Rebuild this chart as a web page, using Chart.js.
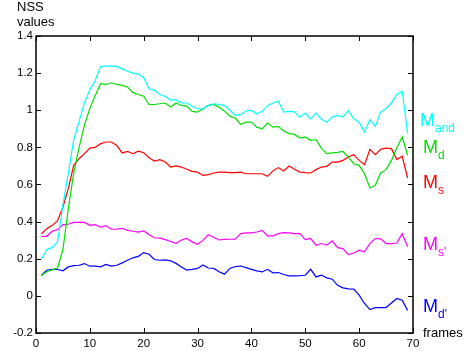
<!DOCTYPE html>
<html>
<head>
<meta charset="utf-8">
<script src="https://cdn.jsdelivr.net/npm/chart.js@4.4.1/dist/chart.umd.min.js"></script>
<style>
  html, body { margin: 0; padding: 0; background: #fff; }
  #wrap { width: 470px; height: 351px; }
</style>
</head>
<body>
<div id="wrap"><canvas id="nssChart" width="470" height="351"></canvas></div>
<script>
// frame numbers (x values)
const frames = [1,2,3,4,5,6,7,8,9,10,11,12,13,14,15,16,17,18,19,20,21,22,23,24,25,26,27,28,29,30,
  31,32,33,34,35,36,37,38,39,40,41,42,43,44,45,46,47,48,49,50,51,52,53,54,55,56,57,58,59,60,
  61,62,63,64,65,66,67,68,69];

// NSS values
const mAnd = [0.20,0.25,0.26,0.29,0.49,0.66,0.84,0.94,1.04,1.11,1.16,1.235,1.238,1.238,1.236,1.223,1.21,1.20,
  1.196,1.175,1.116,1.107,1.085,1.074,1.056,1.056,1.04,1.039,1.022,1.008,1.008,1.026,1.035,1.031,1.026,1.0,
  0.972,0.976,0.996,0.999,0.981,0.994,1.026,1.039,1.049,0.99,0.994,0.992,0.963,0.985,0.954,0.985,0.951,
  0.936,0.963,0.972,0.963,0.999,0.954,0.936,0.882,0.949,0.913,0.99,1.008,1.04,1.085,1.101,0.876];
const mD = [0.11,0.13,0.14,0.15,0.25,0.47,0.66,0.80,0.92,1.01,1.08,1.143,1.139,1.148,1.139,1.134,1.125,1.095,
  1.085,1.076,1.031,1.031,1.035,1.039,1.017,1.039,1.026,1.022,0.994,0.99,1.008,1.026,1.031,1.017,0.995,0.968,
  0.958,0.924,0.936,0.936,0.909,0.90,0.931,0.909,0.913,0.888,0.874,0.87,0.85,0.856,0.838,0.841,0.795,
  0.766,0.77,0.773,0.778,0.748,0.712,0.703,0.658,0.581,0.596,0.662,0.68,0.73,0.798,0.856,0.757];
const mS = [0.335,0.362,0.38,0.404,0.479,0.578,0.703,0.739,0.766,0.796,0.80,0.82,0.829,0.829,0.81,0.77,0.778,0.766,
  0.78,0.771,0.744,0.726,0.734,0.721,0.694,0.70,0.694,0.682,0.671,0.667,0.649,0.653,0.662,0.667,0.667,0.664,
  0.664,0.667,0.658,0.658,0.658,0.658,0.644,0.673,0.691,0.673,0.70,0.682,0.667,0.664,0.662,0.68,0.694,
  0.698,0.721,0.721,0.73,0.748,0.761,0.73,0.707,0.789,0.761,0.789,0.796,0.793,0.734,0.752,0.635];
const mS2 = [0.321,0.321,0.348,0.357,0.384,0.386,0.396,0.396,0.396,0.38,0.384,0.371,0.378,0.359,0.36,0.364,0.353,0.348,
  0.343,0.35,0.329,0.313,0.311,0.303,0.293,0.283,0.301,0.309,0.291,0.278,0.299,0.329,0.316,0.301,0.304,0.305,
  0.305,0.335,0.339,0.339,0.344,0.353,0.323,0.323,0.335,0.341,0.339,0.335,0.335,0.303,0.309,0.273,0.282,
  0.273,0.296,0.26,0.255,0.222,0.231,0.246,0.237,0.282,0.309,0.307,0.282,0.282,0.285,0.335,0.264];
const mD2 = [0.111,0.138,0.143,0.142,0.135,0.156,0.163,0.165,0.174,0.16,0.16,0.156,0.169,0.16,0.165,0.178,0.192,0.205,
  0.213,0.233,0.224,0.196,0.192,0.194,0.189,0.175,0.155,0.139,0.143,0.148,0.166,0.15,0.148,0.13,0.117,0.148,
  0.158,0.161,0.152,0.143,0.135,0.129,0.143,0.124,0.126,0.115,0.108,0.108,0.109,0.111,0.143,0.102,0.112,
  0.097,0.09,0.057,0.043,0.038,0.036,0.004,-0.041,-0.074,-0.063,-0.063,-0.063,-0.038,-0.014,-0.023,-0.078];

const xTicks = [0, 10, 20, 30, 40, 50, 60, 70];
const yTicks = [-0.2, 0, 0.2, 0.4, 0.6, 0.8, 1, 1.2, 1.4];

const series = [
  { main: 'M', sub: 'and', color: '#00ffff', data: mAnd, labelY: 126, x: 420 },
  { main: 'M', sub: 'd',   color: '#00e000', data: mD,   labelY: 153, x: 423 },
  { main: 'M', sub: 's',   color: '#ff0000', data: mS,   labelY: 188, x: 423 },
  { main: 'M', sub: "s'",  color: '#ff00ff', data: mS2,  labelY: 250, x: 423 },
  { main: 'M', sub: "d'",  color: '#0000ff', data: mD2,  labelY: 312, x: 423 }
];

const FONT = '"Liberation Sans", Arial, Helvetica, sans-serif';

// box around the plot with inward tick marks, plus the loose text
const frameAndText = {
  id: 'frameAndText',
  afterDraw(chart) {
    const ctx = chart.ctx;
    const a = chart.chartArea;
    const xs = chart.scales.x, ys = chart.scales.y;
    const tl = 5;
    ctx.save();
    ctx.strokeStyle = '#000';
    ctx.lineWidth = 1.5;
    ctx.strokeRect(Math.round(a.left), Math.round(a.top),
      Math.round(a.right - a.left), Math.round(a.bottom - a.top));
    ctx.lineWidth = 1;
    ctx.beginPath();
    xTicks.forEach(v => {
      const px = Math.round(xs.getPixelForValue(v)) + 0.5;
      ctx.moveTo(px, a.bottom); ctx.lineTo(px, a.bottom - tl);
      ctx.moveTo(px, a.top); ctx.lineTo(px, a.top + tl);
    });
    yTicks.forEach(v => {
      const py = Math.round(ys.getPixelForValue(v)) + 0.5;
      ctx.moveTo(a.left, py); ctx.lineTo(a.left + tl, py);
      ctx.moveTo(a.right, py); ctx.lineTo(a.right - tl, py);
    });
    ctx.stroke();

    ctx.fillStyle = '#000';
    ctx.textBaseline = 'alphabetic';
    ctx.textAlign = 'left';
    ctx.font = '13px ' + FONT;
    ctx.fillText('NSS', 17, 11);
    ctx.fillText('values', 17, 26);
    ctx.fillText('frames', 423, 337);

    series.forEach(s => {
      ctx.fillStyle = s.color;
      ctx.font = '18px ' + FONT;
      ctx.fillText(s.main, s.x, s.labelY);
      const w = ctx.measureText(s.main).width;
      ctx.font = '12px ' + FONT;
      ctx.fillText(s.sub, s.x + w, s.labelY + 6);
    });
    ctx.restore();
  }
};

const ctx = document.getElementById('nssChart').getContext('2d');
const nssChart = new Chart(ctx, {
  type: 'line',
  data: {
    datasets: series.map(s => ({
      label: s.main + s.sub,
      data: frames.map((f, i) => ({ x: f, y: s.data[i] })),
      borderColor: s.color,
      borderWidth: 1.2,
      pointRadius: 0,
      tension: 0,
      fill: false
    }))
  },
  options: {
    responsive: false,
    animation: false,
    layout: { padding: { left: 0, top: 36, right: 57, bottom: 0 } },
    plugins: { legend: { display: false }, tooltip: { enabled: false } },
    scales: {
      x: {
        type: 'linear', min: 0, max: 70,
        afterBuildTicks: sc => { sc.ticks = xTicks.map(v => ({ value: v })); },
        afterFit: sc => { sc.height = 18; },
        grid: { display: false, drawTicks: false },
        border: { display: false },
        ticks: { color: '#000', padding: 4, font: { family: FONT, size: 11.5 }, maxRotation: 0,
          callback: v => String(v) }
      },
      y: {
        type: 'linear', min: -0.2, max: 1.4,
        afterBuildTicks: sc => { sc.ticks = yTicks.map(v => ({ value: v })); },
        afterFit: sc => { sc.width = 36; },
        grid: { display: false, drawTicks: false },
        border: { display: false },
        ticks: { color: '#000', padding: 3, font: { family: FONT, size: 11.5 },
          callback: v => String(+Number(v).toFixed(1)) }
      }
    }
  },
  plugins: [frameAndText]
});
</script>
</body>
</html>
